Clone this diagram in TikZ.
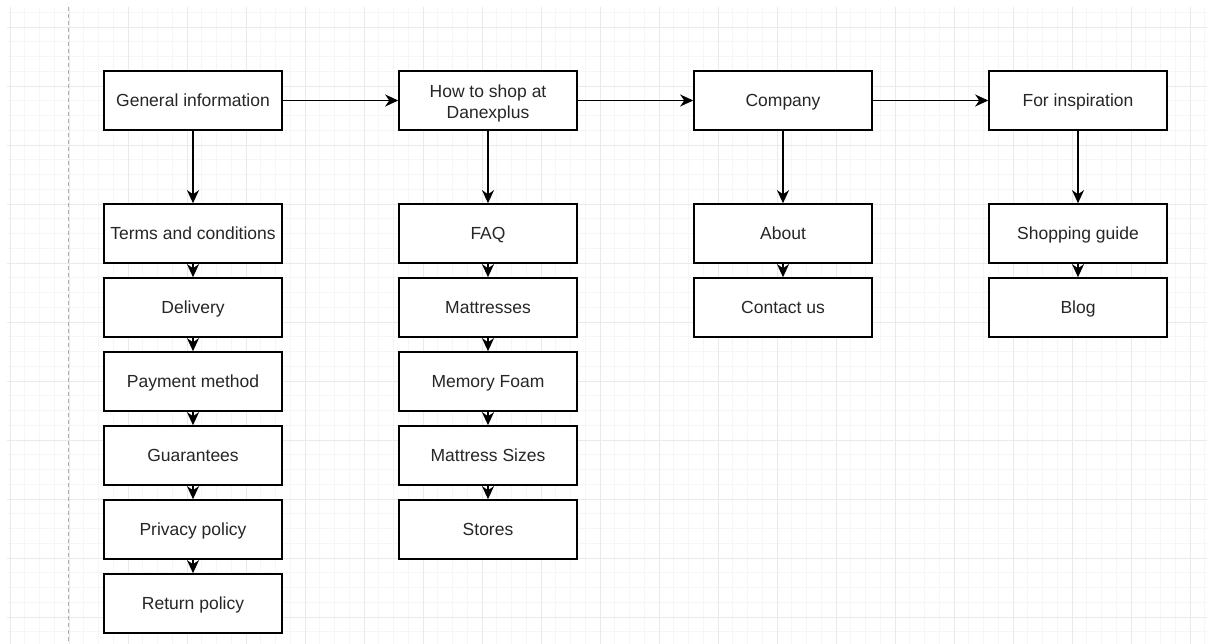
\documentclass[tikz,border=0pt]{standalone}
\usepackage{fontspec}
\setmainfont{Liberation Sans}
\usetikzlibrary{arrows.meta}
\definecolor{minorgrid}{HTML}{F6F6F6}
\definecolor{majorgrid}{HTML}{EAEAEA}
\definecolor{dashgray}{HTML}{B0B0B0}
\tikzset{
  pagebox/.style={draw=black, line width=1.6pt, fill=white, rectangle,
    minimum width=178pt, minimum height=59pt, inner sep=2pt, align=center,
    text height=15.5pt, text depth=2.9pt,
    font=\fontsize{17.5}{21}\selectfont, text=black!85},
  link/.style={draw=black, line width=1.6pt, -{Stealth[length=13pt,width=12pt,inset=4pt]}},
  mingrid/.style={draw=minorgrid, line width=0.8pt},
  majgrid/.style={draw=majorgrid, line width=0.9pt},
}
\begin{document}
\begin{tikzpicture}[x=1pt,y=-1pt]
\useasboundingbox (0,0) rectangle (1207,644);
\fill[white] (0,0) rectangle (1207,644);
% grid
\foreach \k in {-4,...,77}{
  \pgfmathsetmacro\xx{69+14.75*\k}
  \draw[mingrid] (\xx,7) -- (\xx,644);
}
\foreach \k in {-1,...,42}{
  \pgfmathsetmacro\yy{27+14.75*\k}
  \draw[mingrid] (7,\yy) -- (1207,\yy);
}
\foreach \k in {-1,...,19}{
  \pgfmathsetmacro\xx{69+59*\k}
  \draw[majgrid] (\xx,7) -- (\xx,644);
}
\foreach \k in {0,...,10}{
  \pgfmathsetmacro\yy{27+59*\k}
  \draw[majgrid] (7,\yy) -- (1207,\yy);
}
\draw[dashgray, line width=1pt, dash pattern=on 4pt off 3pt] (68.5,7) -- (68.5,644);

% column 1
\node[pagebox] (gen) at (193,100.5) {General information};
\node[pagebox] (terms) at (193,233.5) {Terms and conditions};
\node[pagebox] (deliv) at (193,307.5) {Delivery};
\node[pagebox] (pay) at (193,381.5) {Payment method};
\node[pagebox] (guar) at (193,455.5) {Guarantees};
\node[pagebox] (priv) at (193,529.5) {Privacy policy};
\node[pagebox] (ret) at (193,603.5) {Return policy};
% column 2
\node[pagebox, text height=, text depth=] (how) at (488,100.5) {\rule{0pt}{18.7pt}How to shop at\\Danexplus};
\node[pagebox] (faq) at (488,233.5) {FAQ};
\node[pagebox] (matt) at (488,307.5) {Mattresses};
\node[pagebox] (mem) at (488,381.5) {Memory Foam};
\node[pagebox] (sizes) at (488,455.5) {Mattress Sizes};
\node[pagebox] (stores) at (488,529.5) {Stores};
% column 3
\node[pagebox] (comp) at (783,100.5) {Company};
\node[pagebox] (about) at (783,233.5) {About};
\node[pagebox] (contact) at (783,307.5) {Contact us};
% column 4
\node[pagebox] (insp) at (1078,100.5) {For inspiration};
\node[pagebox] (guide) at (1078,233.5) {Shopping guide};
\node[pagebox] (blog) at (1078,307.5) {Blog};

% top row links
\draw[link] (gen) -- (how);
\draw[link] (how) -- (comp);
\draw[link] (comp) -- (insp);
% vertical links
\draw[link] (gen) -- (terms);
\draw[link] (terms) -- (deliv);
\draw[link] (deliv) -- (pay);
\draw[link] (pay) -- (guar);
\draw[link] (guar) -- (priv);
\draw[link] (priv) -- (ret);
\draw[link] (how) -- (faq);
\draw[link] (faq) -- (matt);
\draw[link] (matt) -- (mem);
\draw[link] (mem) -- (sizes);
\draw[link] (sizes) -- (stores);
\draw[link] (comp) -- (about);
\draw[link] (about) -- (contact);
\draw[link] (insp) -- (guide);
\draw[link] (guide) -- (blog);
\end{tikzpicture}
\end{document}
